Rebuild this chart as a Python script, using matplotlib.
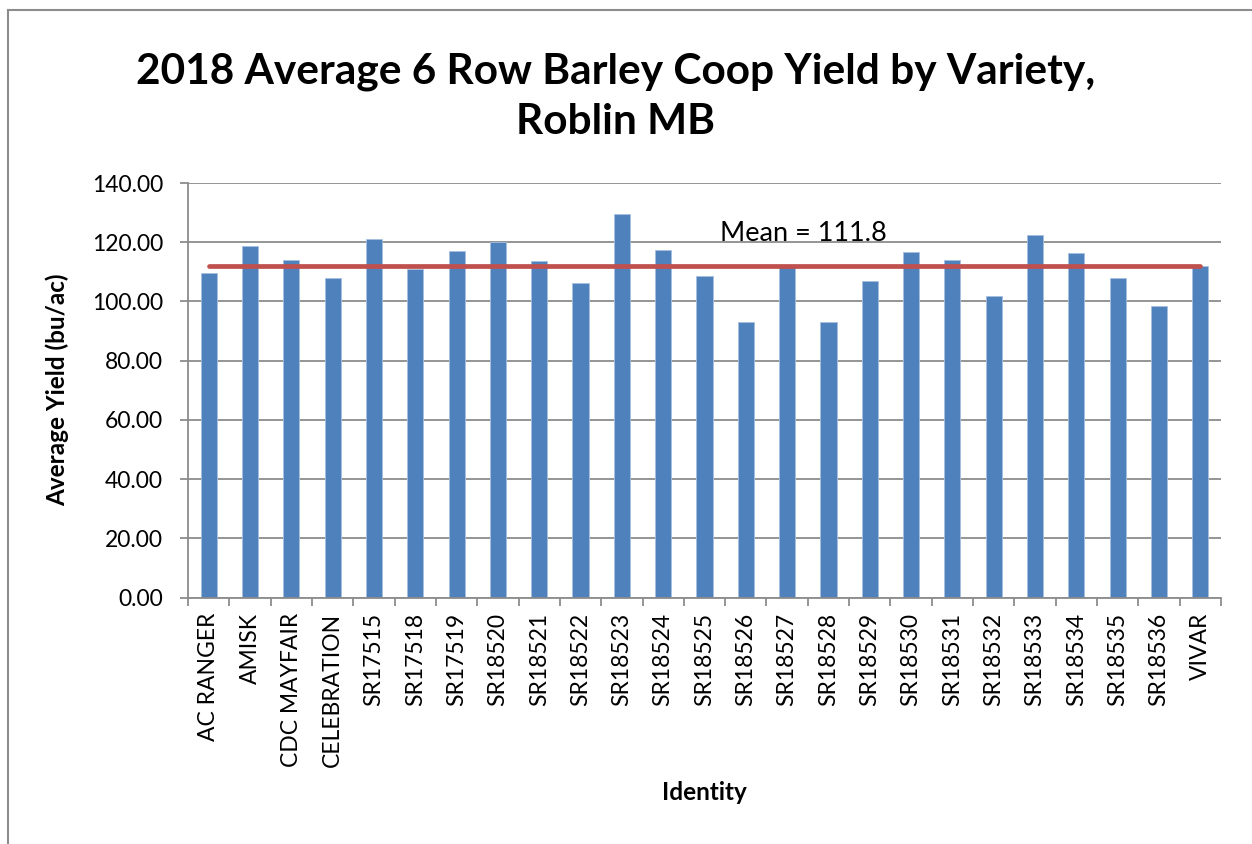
"""2018 average 6 row barley coop yield by variety, Roblin MB."""

import matplotlib
matplotlib.use('Agg')
from matplotlib import pyplot as plt
from matplotlib.lines import Line2D
from matplotlib.ticker import FormatStrFormatter

_FONT = 'Lato'
_BAR_COLOR = '#4F81BD'
_MEAN_COLOR = '#C0504D'
_GRID_COLOR = '#8C8C8C'

varieties = ['AC RANGER', 'AMISK', 'CDC MAYFAIR', 'CELEBRATION', 'SR17515',
             'SR17518', 'SR17519', 'SR18520', 'SR18521', 'SR18522',
             'SR18523', 'SR18524', 'SR18525', 'SR18526', 'SR18527',
             'SR18528', 'SR18529', 'SR18530', 'SR18531', 'SR18532',
             'SR18533', 'SR18534', 'SR18535', 'SR18536', 'VIVAR']
yields = [109.5, 118.6, 114.1, 107.8, 121.0,
          111.0, 117.2, 120.0, 113.6, 106.2,
          129.6, 117.5, 108.7, 93.2, 111.5,
          93.2, 107.0, 116.7, 114.1, 101.8,
          122.3, 116.4, 107.9, 98.5, 112.1]
mean_yield = 111.8
y_ticks = [0, 20, 40, 60, 80, 100, 120, 140]

plt.rcParams['font.family'] = [_FONT, 'DejaVu Sans']

fig = plt.figure(figsize=(12.52, 8.44), dpi=100)
ax = fig.add_axes([188 / 1252, 1 - 597.5 / 844, 1033 / 1252, 414.5 / 844])

# Outer chart border: only the top and left edges show in the crop
border_x = 8 / 1252
border_y = 1 - 9.5 / 844
fig.lines.append(Line2D([border_x, 1.0], [border_y, border_y],
                        transform=fig.transFigure, color=_GRID_COLOR,
                        linewidth=1.5))
fig.lines.append(Line2D([border_x, border_x], [0.0, border_y],
                        transform=fig.transFigure, color=_GRID_COLOR,
                        linewidth=1.5))

x = range(len(varieties))
ax.bar(x, yields, width=0.39, color=_BAR_COLOR, edgecolor='#A8C0E0',
       linewidth=0.6, zorder=2)
ax.plot(x, [mean_yield] * len(varieties), color=_MEAN_COLOR, linewidth=3.4,
        solid_capstyle='round', zorder=3)
ax.text(12.37, 120.3, f'Mean = {mean_yield}', fontsize=19.5, color='black',
        ha='left', va='baseline', zorder=4)

ax.set_xlim(-0.5, len(varieties) - 0.5)
ax.set_ylim(0, 140)
ax.set_yticks(y_ticks)
ax.yaxis.set_major_formatter(FormatStrFormatter('%.2f'))
ax.grid(axis='y', color=_GRID_COLOR, linewidth=1.3, zorder=0)
ax.set_axisbelow(True)

# Category ticks sit between bars, labels under the bars
ax.set_xticks([i - 0.5 for i in range(len(varieties) + 1)])
ax.set_xticklabels([])
ax.set_xticks(list(x), minor=True)
ax.set_xticklabels(varieties, minor=True, rotation=90, fontsize=16.5)
ax.tick_params(axis='x', which='major', length=6, width=1.3,
               color=_GRID_COLOR, direction='out')
ax.tick_params(axis='x', which='minor', length=0, pad=11)
ax.tick_params(axis='y', length=6, width=1.3, color=_GRID_COLOR,
               labelsize=16.5, pad=12)

for side in ('top', 'right'):
  ax.spines[side].set_visible(False)
for side in ('left', 'bottom'):
  ax.spines[side].set_color(_GRID_COLOR)
  ax.spines[side].set_linewidth(1.3)

ax.set_ylabel('Average Yield (bu/ac)', fontsize=17.5, fontweight='bold',
              labelpad=16)
ax.set_xlabel('Identity', fontsize=17.5, fontweight='bold', labelpad=10)

fig.text(0.492, 1 - 72 / 844,
         '2018 Average 6 Row Barley Coop Yield by Variety,',
         fontsize=30.5, fontweight='bold', ha='center', va='center')
fig.text(0.492, 1 - 122 / 844, 'Roblin MB',
         fontsize=30.5, fontweight='bold', ha='center', va='center')

fig.savefig('out.png', dpi=100)
